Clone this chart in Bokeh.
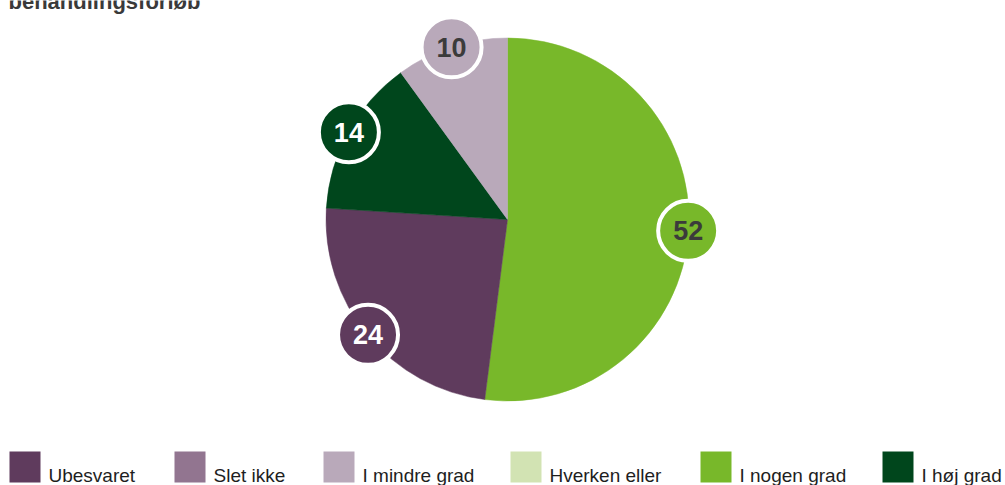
import numpy as np
from bokeh.plotting import figure
from bokeh.models import Range1d, ColumnDataSource
from bokeh.core.properties import value
from bokeh.embed import file_html
from bokeh.resources import INLINE

# ---- data ----
title_text = "behandlingsforløb"
categories = ["Ubesvaret", "Slet ikke", "I mindre grad", "Hverken  eller", "I nogen grad", "I høj grad"]
values = [24, 0, 10, 0, 52, 14]
colors = ["#5f3b5d", "#927590", "#b9a9ba", "#d2e3b3", "#78b82a", "#00461c"]
label_text_colors = ["#ffffff", "#ffffff", "#3b3b3b", "#3b3b3b", "#3b3b3b", "#ffffff"]
# clockwise drawing order of the slices starting at 12 o'clock
pie_order = ["I nogen grad", "Ubesvaret", "Slet ikke", "I høj grad", "Hverken  eller", "I mindre grad"]

# ---- layout (screen pixels from top-left) ----
W, H = 1005, 485
CX, CY = 507, H - 219
R = 181.5
LABEL_R = 181
legend_x = [9, 174, 323, 510, 700, 882]

p = figure(width=W, height=H, x_range=Range1d(0, W), y_range=Range1d(0, H),
           output_backend="svg", toolbar_location=None, min_border=0,
           x_axis_type=None, y_axis_type=None, outline_line_color=None,
           background_fill_color="white", border_fill_color="white")
p.grid.visible = False

# pie slices
idx = [categories.index(c) for c in pie_order if values[categories.index(c)] > 0]
vals = np.array([values[i] for i in idx], dtype=float)
frac = vals / vals.sum()
cum_after = np.cumsum(frac)
cum_before = cum_after - frac
start = np.pi / 2 - cum_after * 2 * np.pi
end = np.pi / 2 - cum_before * 2 * np.pi
mid = np.pi / 2 - (cum_before + frac / 2) * 2 * np.pi

slice_src = ColumnDataSource(dict(
    start=start, end=end,
    color=[colors[i] for i in idx],
    lx=CX + LABEL_R * np.cos(mid), ly=CY + LABEL_R * np.sin(mid),
    label=[str(values[i]) for i in idx],
    tcolor=[label_text_colors[i] for i in idx],
))
p.wedge(x=CX, y=CY, radius=R, start_angle="start", end_angle="end",
        direction="anticlock", fill_color="color", line_color="color",
        line_width=0.5, source=slice_src)

# value badges
p.circle(x="lx", y="ly", radius=30, fill_color="color", line_color="white",
         line_width=4, source=slice_src)
p.text(x="lx", y="ly", text="label", text_align="center", text_baseline="middle",
       text_font=value("Liberation Sans"), text_font_style="bold",
       text_font_size="27px", text_color="tcolor", source=slice_src)

# legend
leg_src = ColumnDataSource(dict(
    x=[x + 15.5 for x in legend_x], tx=[x + 39 for x in legend_x],
    color=colors, name=categories,
))
p.rect(x="x", y=H - 466.5, width=31, height=31, fill_color="color",
       line_color=None, source=leg_src)
p.text(x="tx", y=H - 475, text="name", text_align="left",
       text_baseline="middle", text_font=value("Liberation Sans"),
       text_font_size="19px", text_color="#1e1e1e", source=leg_src)

# (partially visible) title, cut at the top like the reference
p.text(x=[8], y=[H - 0.5], text=[title_text], text_align="left",
       text_baseline="middle", text_font=value("Liberation Sans"),
       text_font_style="bold", text_font_size="22px", text_color="#3a3a3a")

open("out.html", "w").write(file_html(p, INLINE))
